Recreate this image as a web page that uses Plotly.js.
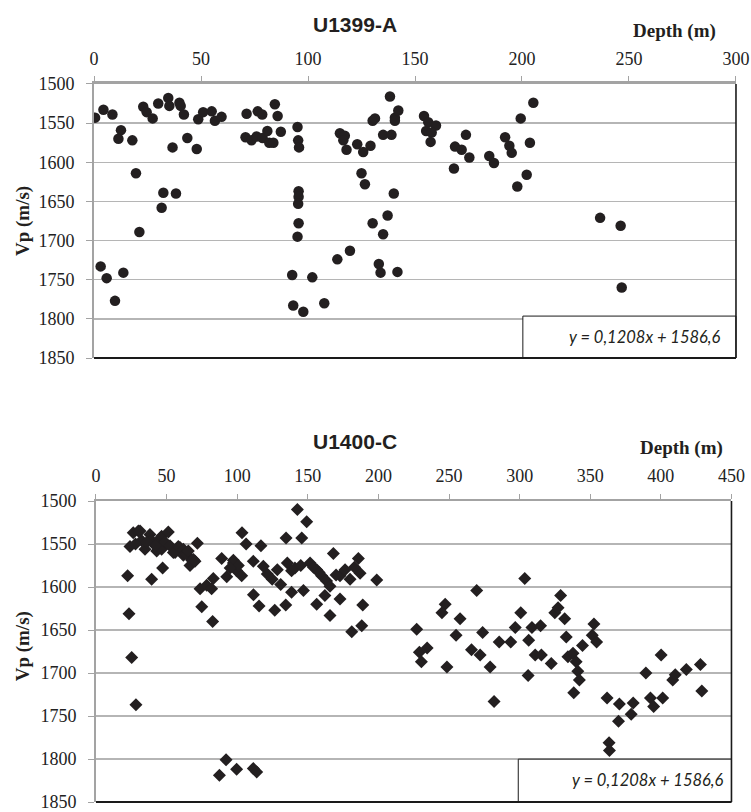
<!DOCTYPE html>
<html>
<head>
<meta charset="utf-8">
<script src="https://cdn.plot.ly/plotly-3.0.1.min.js"></script>
<style>
html,body{margin:0;padding:0;background:#fff;}
#chart{width:751px;height:812px;}
</style>
</head>
<body>
<div id="chart"></div>
<script>
// ---- U1399-A data (depth m, Vp m/s) ----
const depthA = [0.5,4.4,8.6,12.6,11.4,17.9,23,24.6,27.4,30,34.7,35.2,39.9,40.5,42,48.7,51,55,56.5,59.6,
  36.7,43.6,48,19.6,21.2,32.4,38.3,31.6,3.1,5.9,13.7,9.8,
  71.3,76.5,78.6,84.5,85.8,70.8,73.6,76,78.8,81,81.9,83.8,87.3,
  95.1,95.4,95.8,95.6,95.6,95.4,95.6,95.1,92.6,93.1,97.8,102,107.6,
  113.7,119.6,114.9,117.2,116.5,118,123,125.8,129.2,125,126.6,130.2,131.3,135.1,139,138.3,140.6,142.2,140.6,140.1,130.2,137.2,135.1,133.1,133.9,141.8,
  154.2,156.2,159.8,155.2,157.8,157.3,173.8,168.7,171.8,175.4,168.2,184.7,186.9,192.1,194.1,195.2,199.4,205.3,203.7,202.2,197.8,
  236.5,246.1,246.6];
const vpA = [1543,1533,1539,1559,1570,1572,1529,1536,1544,1525,1518,1528,1524,1528,1539,1545,1536,1535,1547,1542,
  1581,1569,1583,1614,1689,1639,1640,1658,1733,1748,1741,1777,
  1538,1535,1539,1526,1541,1568,1572,1567,1569,1560,1575,1575,1561,
  1555,1572,1581,1637,1644,1653,1678,1695,1744,1783,1791,1747,1780,
  1724,1713,1563,1566,1572,1584,1577,1587,1579,1614,1628,1547,1544,1565,1565,1516,1543,1534,1547,1640,1678,1668,1692,1730,1741,1740,
  1541,1549,1553,1560,1562,1574,1565,1580,1584,1594,1608,1592,1601,1568,1579,1588,1544,1524,1575,1616,1631,
  1671,1681,1760];

// ---- U1400-C data (depth m, Vp m/s) ----
const depthC = [24.1,22.4,23.4,25.3,28.3,26.4,30,31.2,32.3,34.7,38.2,39.4,43,45.3,46.5,46.5,48.9,51.2,52.4,54.8,56,58.3,59.5,61.9,61.9,64.2,65.4,66.6,67.8,69,70.1,71.8,39.4,47.2,28,36,42,
  73.7,74.9,78.4,81.9,83.1,82.6,89,92.6,97.3,97.3,99.6,100.8,103.2,95,
  87.4,92.1,99.6,111.4,113.8,
  103.4,106.3,116.8,111.4,118.5,121.3,124.8,128.4,130.8,134.6,145.7,149.2,142.6,135.5,138.5,140.9,138.5,146.9,134.4,126.6,115.5,111.5,151.6,156.3,159.8,163.3,165.7,168.1,162.1,156.3,165.7,172.8,172.8,176.4,179.9,185.8,187,188.9,188.2,181.1,198.8,154,158,170,183,145,
  227.1,229,230.4,234.5,247.3,245,248.5,257.8,255,265.9,269.6,272,273.8,279.1,281.9,285.5,293.7,296.9,300.8,303.6,306.4,306,308.7,311,314.8,315.4,322.4,324.9,329,327.2,331.9,333,334.2,337.8,340,341.2,342.3,338.3,344.5,352.6,351.4,354.5,
  361.9,370.6,370,379,380.4,363.3,363.6,389.4,392.6,394.9,401.3,400.2,408.4,410.2,418,428,429];
const vpC = [1553,1587,1631,1682,1737,1537,1535,1535,1546,1556,1539,1546,1558,1544,1541,1556,1548,1536,1552,1560,1560,1553,1554,1556,1563,1562,1558,1575,1569,1568,1570,1549,1591,1578,1550,1548,1552,
  1602,1623,1598,1602,1590,1640,1567,1588,1569,1572,1581,1575,1587,1578,
  1819,1801,1812,1811,1815,
  1537,1550,1552,1570,1576,1585,1591,1580,1597,1543,1543,1524,1510,1572,1581,1578,1606,1604,1621,1627,1622,1609,1572,1580,1587,1593,1599,1561,1610,1620,1633,1614,1587,1580,1591,1567,1584,1621,1645,1652,1592,1577,1583,1586,1577,1575,
  1649,1676,1687,1671,1620,1630,1693,1637,1656,1673,1604,1679,1653,1693,1733,1664,1664,1647,1630,1590,1662,1703,1647,1679,1645,1679,1689,1630,1610,1624,1637,1658,1681,1677,1687,1698,1708,1723,1668,1643,1656,1664,
  1729,1736,1756,1748,1735,1781,1790,1700,1729,1739,1729,1679,1708,1702,1696,1690,1721];

const titleA = 'U1399-A';
const titleC = 'U1400-C';
const xTitle = 'Depth (m)';
const yTitle = 'Vp (m/s)';
const eqText = 'y = 0,1208x + 1586,6';

const mark = '#231f20';
const tickFont = {family: 'Liberation Serif', size: 18, color: '#222'};
const axisGray = '#a3a3a3';

function xax(max, domain) {
  return {domain: domain, range: [0, max], dtick: 50, side: 'top', showgrid: false, zeroline: false,
    showline: true, linecolor: axisGray, linewidth: 2.5, ticks: 'outside', ticklen: 5, tickcolor: axisGray, tickwidth: 1,
    tickfont: tickFont, ticklabelstandoff: 4, ticklabeloverflow: 'allow', fixedrange: true};
}
function yax(domain, anchor) {
  return {domain: domain, range: [1850, 1500], dtick: 50, showgrid: true, gridcolor: '#b5b5b5', gridwidth: 1.4,
    zeroline: false, showline: true, linecolor: axisGray, linewidth: 2, ticks: 'outside', ticklen: 6,
    tickcolor: axisGray, tickwidth: 1, tickfont: tickFont, ticklabelstandoff: 8, ticklabeloverflow: 'allow',
    anchor: anchor, fixedrange: true};
}

const traces = [
  {x: depthA, y: vpA, type: 'scatter', mode: 'markers', xaxis: 'x', yaxis: 'y',
   marker: {symbol: 'circle', size: 10.5, color: mark}, hoverinfo: 'skip'},
  {x: depthC, y: vpC, type: 'scatter', mode: 'markers', xaxis: 'x2', yaxis: 'y2',
   marker: {symbol: 'diamond', size: 10, color: mark}, hoverinfo: 'skip'}
];

function borders(xr, yr) {
  return [
    {type: 'line', xref: xr + ' domain', yref: yr + ' domain', x0: 1, x1: 1, y0: 0, y1: 1, line: {color: '#1a1a1a', width: 1.6}},
    {type: 'line', xref: xr + ' domain', yref: yr + ' domain', x0: 0, x1: 1, y0: 0, y1: 0, line: {color: '#1a1a1a', width: 1.8}}
  ];
}

const shapes = [
  {type: 'rect', xref: 'x domain', yref: 'y domain', x0: 0.668, x1: 1, y0: 0, y1: 0.153,
   fillcolor: '#fff', line: {color: '#1a1a1a', width: 1}},
  {type: 'rect', xref: 'x2 domain', yref: 'y2 domain', x0: 0.6645, x1: 1, y0: 0, y1: 0.1424,
   fillcolor: '#fff', line: {color: '#1a1a1a', width: 1}}
].concat(borders('x', 'y'), borders('x2', 'y2'));

const titleFont = {family: 'Liberation Sans', size: 21, color: '#231f20', weight: 'bold'};
const labFont = {family: 'Liberation Serif', size: 19, color: '#231f20', weight: 'bold'};
const eqFont = {family: 'Lato', size: 16.5, color: '#231f20', style: 'italic'};

const annotations = [
  {text: '<b>' + titleA + '</b>', xref: 'paper', yref: 'paper', x: 0.4727, y: 0.9698, xanchor: 'center', yanchor: 'middle', showarrow: false, font: titleFont},
  {text: '<b>' + xTitle + '</b>', xref: 'paper', yref: 'paper', x: 0.8988, y: 0.9622, xanchor: 'center', yanchor: 'middle', showarrow: false, font: labFont},
  {text: '<b>' + yTitle + '</b>', xref: 'paper', yref: 'paper', x: 0.0306, y: 0.7278, xanchor: 'center', yanchor: 'middle', showarrow: false, textangle: -90, font: labFont},
  {text: '<i>' + eqText + '</i>', xref: 'x domain', yref: 'y domain', x: 0.858, y: 0.0766, xanchor: 'center', yanchor: 'middle', showarrow: false, font: eqFont},
  {text: '<b>' + titleC + '</b>', xref: 'paper', yref: 'paper', x: 0.4727, y: 0.4563, xanchor: 'center', yanchor: 'middle', showarrow: false, font: titleFont},
  {text: '<b>' + xTitle + '</b>', xref: 'paper', yref: 'paper', x: 0.9068, y: 0.4486, xanchor: 'center', yanchor: 'middle', showarrow: false, font: labFont},
  {text: '<b>' + yTitle + '</b>', xref: 'paper', yref: 'paper', x: 0.0306, y: 0.204, xanchor: 'center', yanchor: 'middle', showarrow: false, textangle: -90, font: labFont},
  {text: '<i>' + eqText + '</i>', xref: 'x2 domain', yref: 'y2 domain', x: 0.868, y: 0.074, xanchor: 'center', yanchor: 'middle', showarrow: false, font: eqFont}
];

const layout = {
  width: 751, height: 812,
  margin: {l: 0, r: 0, t: 0, b: 0},
  paper_bgcolor: '#fff', plot_bgcolor: '#fff',
  showlegend: false,
  xaxis: xax(300, [0.1252, 0.9800]),
  yaxis: yax([0.5591, 0.8966], 'x'),
  xaxis2: Object.assign(xax(450, [0.1278, 0.9740]), {anchor: 'y2'}),
  yaxis2: yax([0.0123, 0.3830], 'x2'),
  shapes: shapes,
  annotations: annotations
};
layout.xaxis.anchor = 'y';

Plotly.newPlot('chart', traces, layout, {displayModeBar: false, staticPlot: true});
</script>
</body>
</html>
